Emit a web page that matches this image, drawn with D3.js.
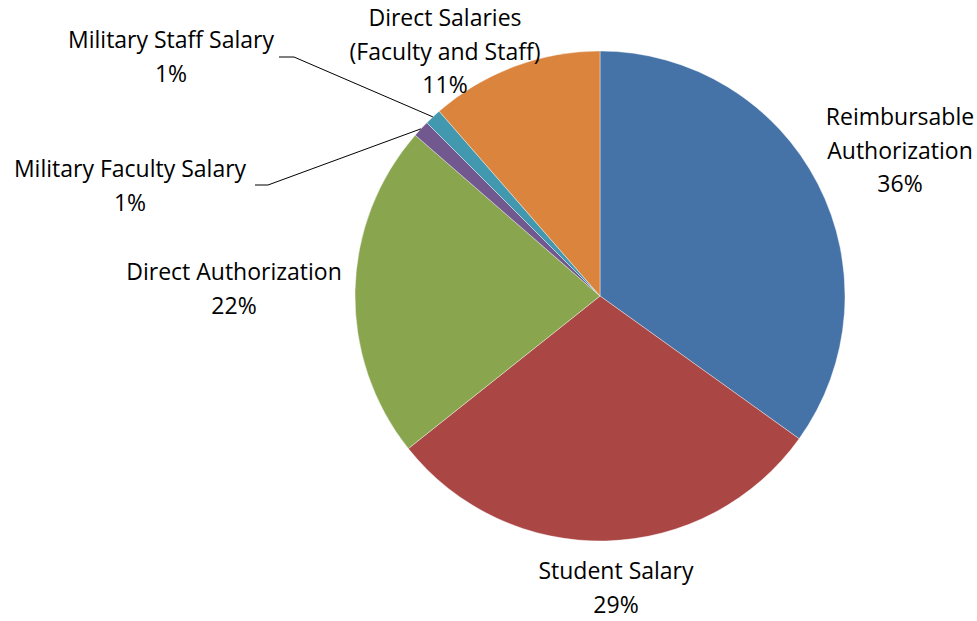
<!DOCTYPE html>
<html>
<head>
<meta charset="utf-8">
<script src="https://cdn.jsdelivr.net/npm/d3@7"></script>
<style>
  body { margin: 0; background: #fff; }
  text { font-family: "Open Sans", "Liberation Sans", Arial, sans-serif; font-size: 23px; fill: #000; }
</style>
</head>
<body>
<div id="chart"></div>
<script>
// slices, clockwise from 12 o'clock
const categories = ['Reimbursable Authorization', 'Student Salary', 'Direct Authorization',
                    'Military Faculty Salary', 'Military Staff Salary', 'Direct Salaries (Faculty and Staff)'];
const values = [34.9, 29.4, 22.1, 1.1, 1.1, 11.4];
const percentLabels = ['36%', '29%', '22%', '1%', '1%', '11%'];
const colors = ['#4572A7', '#AA4643', '#89A54E', '#71588F', '#4198AF', '#DB843D'];

// label text lines and where to put them
const labelLines = [
  ['Reimbursable', 'Authorization'],
  ['Student Salary'],
  ['Direct Authorization'],
  ['Military Faculty Salary'],
  ['Military Staff Salary'],
  ['Direct Salaries', '(Faculty and Staff)']
];
const labelPos = [
  { x: 900, y: 116 },
  { x: 616, y: 570 },
  { x: 234, y: 271 },
  { x: 130, y: 168 },
  { x: 171, y: 39 },
  { x: 445, y: 17 }
];
// leader line start (label side) for the small slices
const leaders = { 3: { x0: 255, x1: 268, y: 185 }, 4: { x0: 279, x1: 294, y: 57 } };

const w = 977, h = 621;
const cx = 600, cy = 296, r = 245;
const lineH = 33.5;

const svg = d3.select('#chart').append('svg')
  .attr('width', w)
  .attr('height', h);

const pie = d3.pie().sort(null).value(d => d)(values);
const arc = d3.arc().innerRadius(0).outerRadius(r);

const g = svg.append('g').attr('transform', `translate(${cx},${cy})`);

g.selectAll('path')
  .data(pie)
  .enter()
  .append('path')
  .attr('d', arc)
  .attr('fill', (d, i) => colors[i])
  .attr('stroke', '#fff')
  .attr('stroke-width', 0.4);

// leader lines
Object.keys(leaders).forEach(k => {
  const i = +k;
  const a = (pie[i].startAngle + pie[i].endAngle) / 2;
  const ex = cx + r * Math.sin(a), ey = cy - r * Math.cos(a);
  const L = leaders[k];
  svg.append('polyline')
    .attr('points', `${L.x0},${L.y} ${L.x1},${L.y} ${ex},${ey}`)
    .attr('fill', 'none')
    .attr('stroke', '#000')
    .attr('stroke-width', 1);
});

// labels
labelLines.forEach((lines, i) => {
  const all = lines.concat([percentLabels[i]]);
  const t = svg.append('text')
    .attr('text-anchor', 'middle')
    .attr('dominant-baseline', 'central');
  all.forEach((s, j) => {
    t.append('tspan')
      .attr('x', labelPos[i].x)
      .attr('y', labelPos[i].y + j * lineH)
      .text(s);
  });
});
</script>
</body>
</html>
